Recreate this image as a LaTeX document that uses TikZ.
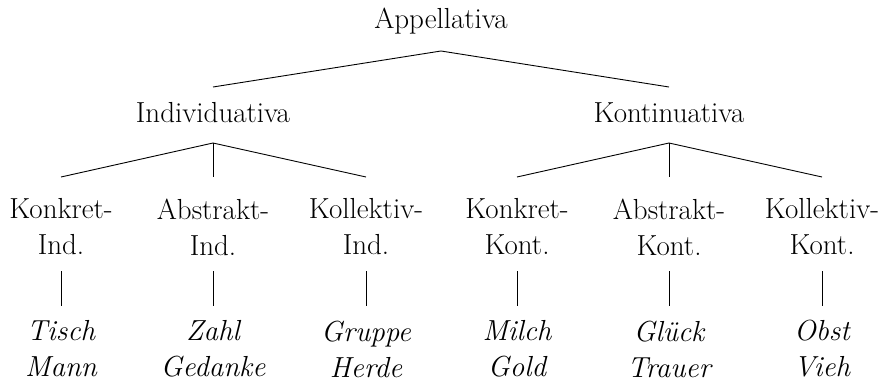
\documentclass[tikz,border=0pt]{standalone}
\begin{document}
\begin{tikzpicture}[x=1pt,y=-1pt,
  lbl/.style={font=\fontsize{29}{36}\selectfont, align=center, inner sep=0pt},
  ex/.style={font=\fontsize{29}{36}\selectfont\itshape, align=center, inner sep=0pt},
  edge/.style={line width=0.9pt}]
\useasboundingbox (0,0) rectangle (883,383);
\node[lbl] (root) at (441,21) {Appellativa};
\node[lbl] (ind) at (213,113) {Individuativa};
\node[lbl] (kon) at (669,113) {Kontinuativa};
\foreach \n/\x/\t in {k1/61/{Konkret-\\Ind.}, a1/213/{Abstrakt-\\Ind.}, c1/366/{Kollektiv-\\Ind.},
                      k2/517/{Konkret-\\Kont.}, a2/669/{Abstrakt-\\Kont.}, c2/822/{Kollektiv-\\Kont.}}{
  \node[lbl] (\n) at (\x,227) {\t};
  \coordinate (\n-t) at (\x,177);
  \coordinate (\n-b) at (\x,271);
}
\foreach \n/\x/\t in {e1/61/{Tisch\\Mann}, e2/213/{Zahl\\Gedanke}, e3/366/{Gruppe\\Herde},
                      e4/517/{Milch\\Gold}, e5/669/{Glück\\Trauer}, e6/822/{Obst\\Vieh}}{
  \node[ex] (\n) at (\x,349) {\t};
  \coordinate (\n-t) at (\x,306);
}
\coordinate (root-s) at (441,51);
\coordinate (ind-n) at (213,87);
\coordinate (kon-n) at (669,87);
\coordinate (ind-s) at (213,143);
\coordinate (kon-s) at (669,143);
\draw[edge] (ind-n) -- (root-s) -- (kon-n);
\draw[edge] (ind-s) -- (k1-t);
\draw[edge] (ind-s) -- (a1-t);
\draw[edge] (ind-s) -- (c1-t);
\draw[edge] (kon-s) -- (k2-t);
\draw[edge] (kon-s) -- (a2-t);
\draw[edge] (kon-s) -- (c2-t);
\draw[edge] (k1-b) -- (e1-t);
\draw[edge] (a1-b) -- (e2-t);
\draw[edge] (c1-b) -- (e3-t);
\draw[edge] (k2-b) -- (e4-t);
\draw[edge] (a2-b) -- (e5-t);
\draw[edge] (c2-b) -- (e6-t);
\end{tikzpicture}
\end{document}
